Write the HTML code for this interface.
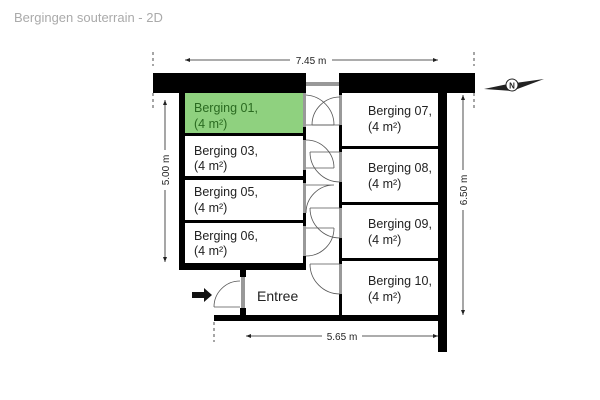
<!DOCTYPE html>
<html><head><meta charset="utf-8"><style>
html,body{margin:0;padding:0;background:#fff;width:600px;height:400px;overflow:hidden}
svg{display:block}
text{font-family:"Liberation Sans",sans-serif}
</style></head><body>
<svg width="600" height="400" viewBox="0 0 600 400" xmlns="http://www.w3.org/2000/svg">
<text x="14" y="22" font-size="13" fill="#aaa">Bergingen souterrain - 2D</text>

<!-- dimension 7.45 -->
<g stroke="#222" stroke-width="0.8" fill="none">
<line x1="185" y1="60" x2="290" y2="60"/><line x1="332" y1="60" x2="438" y2="60"/>
<line x1="165" y1="100" x2="165" y2="150"/><line x1="165" y1="190" x2="165" y2="262"/>
<line x1="463" y1="95" x2="463" y2="170"/><line x1="463" y1="210" x2="463" y2="315"/>
<line x1="246" y1="336" x2="322" y2="336"/><line x1="362" y1="336" x2="438" y2="336"/>
<line x1="153" y1="52" x2="153" y2="66" stroke-dasharray="3,3"/>
<line x1="474" y1="52" x2="474" y2="66" stroke-dasharray="3,3"/>
<line x1="153" y1="93" x2="153" y2="110" stroke-dasharray="3,3"/>
<line x1="474" y1="93" x2="474" y2="108" stroke-dasharray="3,3"/>
<line x1="214" y1="322" x2="214" y2="342" stroke-dasharray="3,3"/>
</g>
<g fill="#222">
<path d="M185 60 l5 -2 v4z"/><path d="M438 60 l-5 -2 v4z"/>
<path d="M165 100 l-2 5 h4z"/><path d="M165 262 l-2 -5 h4z"/>
<path d="M463 95 l-2 5 h4z"/><path d="M463 315 l-2 -5 h4z"/>
<path d="M246 336 l5 -2 v4z"/><path d="M438 336 l-5 -2 v4z"/>
</g>
<text x="311" y="64" font-size="10" text-anchor="middle" fill="#222">7.45 m</text>
<text x="342" y="340" font-size="10" text-anchor="middle" fill="#222">5.65 m</text>
<text transform="translate(169,170) rotate(-90)" font-size="10" text-anchor="middle" fill="#222">5.00 m</text>
<text transform="translate(467,190) rotate(-90)" font-size="10" text-anchor="middle" fill="#222">6.50 m</text>

<!-- green room -->
<rect x="185" y="93" width="119" height="40" fill="#8fd17f"/>

<!-- walls -->
<g fill="#000">
<rect x="153" y="73" width="153" height="20"/>
<rect x="339" y="73" width="136" height="20"/>
<rect x="179" y="93" width="6" height="177"/>
<rect x="179" y="263" width="127" height="7"/>
<rect x="185" y="133" width="119" height="3"/>
<rect x="185" y="176" width="119" height="4"/>
<rect x="185" y="220" width="119" height="3"/>
<rect x="438" y="93" width="9" height="259"/>
<rect x="214" y="315" width="224" height="6"/>
<rect x="240" y="268" width="6" height="9"/>
<rect x="240" y="308" width="6" height="8"/>
<rect x="339" y="93" width="3" height="222"/>
<rect x="342" y="146" width="96" height="3"/>
<rect x="342" y="202" width="96" height="3"/>
<rect x="342" y="258" width="96" height="3"/>
<rect x="303" y="93" width="3" height="170"/>
</g>
<!-- grey door jambs -->
<g fill="#999">
<rect x="306" y="82" width="33" height="4"/>
<rect x="303" y="93" width="3" height="34"/>
<rect x="303" y="140" width="3" height="30"/>
<rect x="303" y="183" width="3" height="30"/>
<rect x="303" y="226" width="3" height="30"/>
<rect x="339" y="95" width="3" height="30"/>
<rect x="339" y="152" width="3" height="30"/>
<rect x="339" y="208" width="3" height="30"/>
<rect x="339" y="264" width="3" height="30"/>
<rect x="241" y="277" width="4" height="31"/>
</g>
<!-- door arcs -->
<g stroke="#555" stroke-width="0.8" fill="none">
<path d="M306 125 h28 M334 125 A30 30 0 0 0 306 95"/>
<path d="M340 125 h-28 M312 125 A28 28 0 0 1 340 97"/>
<path d="M306 152 h28 M334 152 A28 28 0 0 0 306 124" transform="translate(0,16)"/>
<path d="M310 152 A30 30 0 0 0 340 182 M310 152 h30"/>
<path d="M334 185 A28 28 0 0 0 306 213 M306 185 h28"/>
<path d="M310 208 A30 30 0 0 0 340 238 M310 208 h30"/>
<path d="M334 228 A28 28 0 0 1 306 256 M306 228 h28"/>
<path d="M310 264 A30 30 0 0 0 340 294 M310 264 h30"/>
<path d="M214 307 A26 26 0 0 1 240 281 M214 307 h26"/>
</g>
<path d="M192 292 h12 v-4 l8 7 l-8 7 v-4 h-12z" fill="#111"/>

<g font-size="12.5" fill="#222">
<text x="194" y="112" fill="#2a6a20">Berging 01,</text><text x="194" y="128" fill="#2a6a20">(4 m²)</text>
<text x="194" y="155">Berging 03,</text><text x="194" y="170">(4 m²)</text>
<text x="194" y="196">Berging 05,</text><text x="194" y="212">(4 m²)</text>
<text x="194" y="240">Berging 06,</text><text x="194" y="255">(4 m²)</text>
<text x="368" y="115">Berging 07,</text><text x="368" y="131">(4 m²)</text>
<text x="368" y="172">Berging 08,</text><text x="368" y="188">(4 m²)</text>
<text x="368" y="228">Berging 09,</text><text x="368" y="244">(4 m²)</text>
<text x="368" y="285">Berging 10,</text><text x="368" y="301">(4 m²)</text>
</g>
<text x="257" y="301" font-size="14" fill="#222">Entree</text>

<!-- compass -->
<g>
<path d="M484 89 L508 84 L544 79 L512 91 Z" fill="#222"/>
<circle cx="512" cy="85" r="6" fill="#fff" stroke="#222" stroke-width="1"/>
<text x="512" y="88.5" font-size="8" font-weight="bold" text-anchor="middle" fill="#222">N</text>
</g>
</svg>
</body></html>
